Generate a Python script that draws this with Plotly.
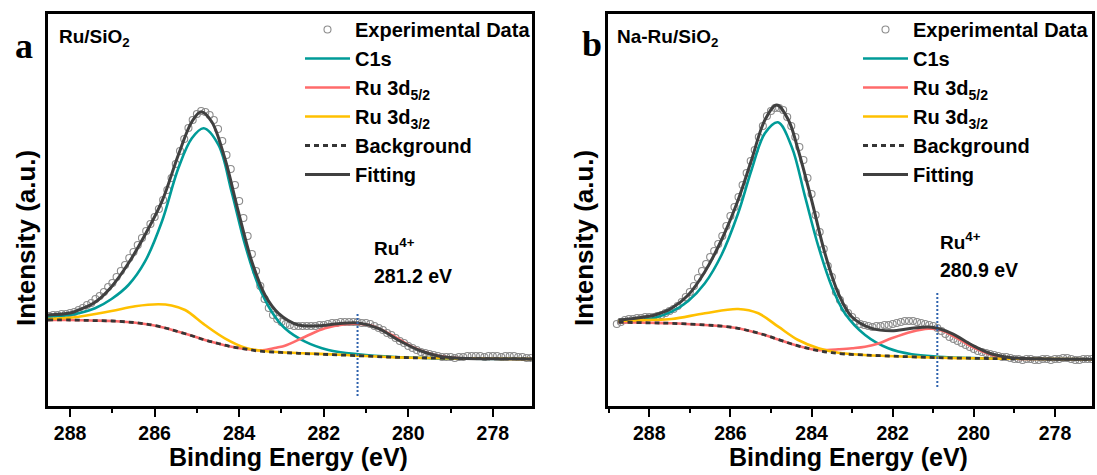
import plotly.graph_objects as go

FONT = "Arial, Liberation Sans, sans-serif"
SERIF = "Times New Roman, Liberation Serif, serif"

# ---------------- Panel a : Ru/SiO2 ----------------
exp_a = [90, 91, 91, 92, 92, 93, 94, 96, 98, 101,
         103, 107, 110, 114, 119, 123, 129, 135, 141, 148,
         154, 161, 168, 175, 182, 189, 197, 206, 216, 228,
         242, 255, 267, 278, 286, 292, 295, 294, 291, 286,
         277, 265, 251, 237, 221, 205, 188, 170, 152, 135,
         120, 107, 98, 91, 87, 84, 82, 81, 80, 80,
         80, 80, 80, 80, 81, 81, 82, 83, 83, 84,
         84, 84, 84, 84, 83, 83, 82, 80, 78, 76,
         73, 71, 68, 65, 63, 60, 58, 56, 54, 53,
         52, 51, 50, 49, 49, 49, 48, 49, 49, 50,
         50, 50, 50, 49, 50, 50, 50, 49, 50, 50,
         50, 49, 49, 48, 48]
exp_a_energy = [round(288.5 - 0.1 * i, 1) for i in range(len(exp_a))]

bg_a_x = [288.53, 288.0, 287.5, 287.0, 286.5, 286.07, 285.7, 285.44, 285.1, 284.81, 284.5,
          284.18, 283.85, 283.55, 283.1, 282.6, 281.9, 281.18, 280.5, 279.92, 279.13, 278.0, 277.0]
bg_a_y = [86, 86, 85.5, 85, 83.5, 81, 77.5, 74.3, 70, 66, 62.5,
          59.3, 57, 55, 53.8, 52.7, 51.5, 50.3, 49, 48.3, 47.7, 47.2, 47]

c1s_a_x = [288.53, 288.0, 287.8, 287.41, 287.02, 286.62, 286.23, 285.83, 285.44, 285.12, 284.84,
           284.49, 284.18, 283.86, 283.55, 283.23, 282.92, 282.44, 281.89, 281.18, 280.31, 279.5, 278.5, 277.0]
c1s_a_y = [89.3, 91, 92.7, 97.7, 107, 121, 144.3, 184.3, 237.7, 267.7, 277.7,
           261, 214.3, 161, 121, 94.3, 77.7, 64.3, 56, 51.7, 49, 47.9, 47.3, 47]

ru52_a_x = [288.53, 288.0, 287.5, 287.0, 286.5, 286.07, 285.7, 285.44, 285.1, 284.81, 284.5, 284.18,
            283.85, 283.55, 283.39, 283.1, 282.92, 282.44, 281.97, 281.5, 281.18, 280.86, 280.39,
            279.92, 279.45, 278.97, 278.0, 277.0]
ru52_a_y = [86, 86, 85.5, 85, 83.5, 81, 77.5, 74.3, 70, 66, 62.5, 59.3,
            57, 55.7, 56, 58.5, 60.3, 69.3, 77.7, 81.7, 82.3, 80.3, 71,
            59.3, 51.7, 48.3, 47.2, 47]

ru32_a_x = [288.53, 287.8, 287.02, 286.46, 285.91, 285.6, 285.28, 284.81, 284.34, 283.86, 283.47,
            283.0, 282.5, 281.8, 281.18, 280.5, 279.92, 279.13, 278.0, 277.0]
ru32_a_y = [87, 89.3, 95, 99.7, 101.7, 100.5, 96, 81, 67.7, 58.3, 55.3,
            53.8, 52.8, 51.6, 50.3, 49, 48.3, 47.7, 47.2, 47]

fit_a_x = [288.53, 288.0, 287.8, 287.41, 287.02, 286.62, 286.23, 285.83, 285.44, 285.12, 284.9,
           284.65, 284.34, 284.02, 283.7, 283.39, 283.07, 282.6, 282.13, 281.66, 281.18, 280.71,
           280.24, 279.76, 279.29, 278.74, 278.0, 277.0]
fit_a_y = [91, 93, 96, 103.7, 119.3, 142.7, 171, 204.3, 251, 284.3, 294.3,
           284.3, 247.7, 194.3, 144.3, 111, 92.7, 81, 80.3, 82.3, 83, 77.7,
           66, 56, 50, 47.7, 47.2, 47]

# ---------------- Panel b : Na-Ru/SiO2 ----------------
exp_b = [82, 84, 86, 87, 87, 88, 88, 89, 89, 89,
         90, 91, 93, 95, 97, 100, 104, 109, 114, 120,
         128, 135, 142, 149, 155, 162, 170, 180, 190, 199,
         209, 221, 233, 245, 256, 269, 280, 290, 295, 298,
         298, 296, 289, 280, 269, 259, 246, 228, 212, 191,
         174, 157, 140, 129, 114, 106, 98, 93, 89, 85,
         82, 81, 80, 79, 80, 80, 81, 81, 82, 83,
         84, 85, 85, 85, 84, 83, 82, 81, 80, 78,
         75, 72, 69, 67, 65, 63, 61, 59, 57, 55,
         54, 53, 52, 51, 50, 49, 49, 48, 47, 47,
         46, 47, 47, 46, 46, 47, 47, 46, 47, 47,
         48, 48, 47, 46, 46, 47, 47, 47]
exp_b_energy = [round(288.8 - 0.1 * i, 1) for i in range(len(exp_b))]

bg_b_x = [288.76, 288.0, 287.45, 286.63, 286.2, 285.81, 285.5, 285.15, 284.82, 284.49, 284.16,
          283.83, 283.5, 283.18, 282.7, 282.11, 281.5, 280.88, 280.0, 279.23, 278.2, 277.0]
bg_b_y = [83.7, 83.2, 82.7, 81, 79.8, 77.7, 74.8, 71, 66.5, 62, 58.3,
          55.3, 53.3, 52, 51, 50, 49.1, 48.3, 47.7, 47.3, 47, 46.7]

c1s_b_x = [288.76, 288.3, 287.86, 287.45, 287.04, 286.63, 286.22, 285.81, 285.48, 285.15, 284.83,
           284.49, 284.16, 283.83, 283.5, 283.18, 282.68, 282.11, 281.53, 280.88, 280.0, 279.0, 277.0]
c1s_b_y = [84.3, 85.5, 88.3, 94.3, 105, 122.7, 151, 192.7, 236, 272.7, 283.7,
           259.3, 209.3, 159.3, 119.3, 92.7, 71, 57.7, 51.7, 49.3, 47.9, 47.2, 46.7]

ru52_b_x = [288.76, 288.0, 287.45, 286.63, 286.2, 285.81, 285.5, 285.15, 284.82, 284.49, 284.16,
            283.83, 283.6, 283.34, 283.0, 282.68, 282.35, 282.03, 281.53, 281.12, 280.88, 280.55,
            280.05, 279.56, 279.07, 278.2, 277.0]
ru52_b_y = [83.7, 83.2, 82.7, 81, 79.8, 77.7, 74.8, 71, 66.5, 62, 58.3,
            55.8, 56, 56.7, 57.8, 59.3, 62.5, 67.7, 74.3, 77.3, 76.7, 71,
            59.3, 51, 47.7, 47, 46.7]

ru32_b_x = [288.76, 288.0, 287.45, 286.63, 285.81, 285.31, 284.82, 284.33, 283.83, 283.34,
            282.7, 282.11, 281.5, 280.88, 280.0, 279.23, 278.2, 277.0]
ru32_b_y = [85, 86, 87, 92.7, 97, 92.7, 79.3, 66, 57.7, 53.3,
            51, 50, 49.1, 48.3, 47.7, 47.3, 47, 46.7]

fit_b_x = [288.76, 288.3, 287.86, 287.45, 287.04, 286.63, 286.22, 285.81, 285.48, 285.15, 284.86,
           284.57, 284.33, 284.0, 283.67, 283.34, 283.01, 282.52, 282.03, 281.53, 281.04, 280.55,
           280.05, 279.56, 279.07, 278.2, 277.0]
fit_b_y = [86, 88, 91, 97.7, 111, 134.3, 166, 206, 246, 286, 301,
           286, 256, 206, 152.7, 112.7, 89.3, 77.7, 75.3, 77.7, 78.7, 72.7,
           61, 52, 48.3, 47, 46.7]

# Ru4+ marker lines
ru4_a_x = [281.2, 281.2]
ru4_a_y = [10, 93]
ru4_b_x = [280.9, 280.9]
ru4_b_y = [19, 115]

# ---------------- styles ----------------
COL_EXP = "#8c8c8c"
COL_C1S = "#009b98"
COL_RU52 = "#ff6b6b"
COL_RU32 = "#ffc000"
COL_BG = "#353535"
COL_FIT = "#404040"
COL_MARK = "#2e62ad"

fig = go.Figure()


def add_panel(xa, ya, leg, ex, ey, c1x, c1y, r5x, r5y, r3x, r3y, bx, by, fx, fy, vx, vy):
    fig.add_trace(go.Scatter(x=ex, y=ey, mode="markers", name="Experimental Data",
                             marker=dict(symbol="circle-open", size=7, color=COL_EXP, line=dict(width=1.1)),
                             xaxis=xa, yaxis=ya, legend=leg))
    fig.add_trace(go.Scatter(x=c1x, y=c1y, mode="lines", name="C1s",
                             line=dict(color=COL_C1S, width=2.6, shape="spline"),
                             xaxis=xa, yaxis=ya, legend=leg))
    fig.add_trace(go.Scatter(x=r5x, y=r5y, mode="lines", name="Ru 3d<sub>5/2</sub>",
                             line=dict(color=COL_RU52, width=2.6, shape="spline"),
                             xaxis=xa, yaxis=ya, legend=leg))
    fig.add_trace(go.Scatter(x=r3x, y=r3y, mode="lines", name="Ru 3d<sub>3/2</sub>",
                             line=dict(color=COL_RU32, width=2.6, shape="spline"),
                             xaxis=xa, yaxis=ya, legend=leg))
    fig.add_trace(go.Scatter(x=bx, y=by, mode="lines", name="Background",
                             line=dict(color=COL_BG, width=2.8, shape="spline", dash="5px,4px"),
                             xaxis=xa, yaxis=ya, legend=leg))
    fig.add_trace(go.Scatter(x=fx, y=fy, mode="lines", name="Fitting",
                             line=dict(color=COL_FIT, width=3, shape="spline"),
                             xaxis=xa, yaxis=ya, legend=leg))
    fig.add_trace(go.Scatter(x=vx, y=vy, mode="lines", showlegend=False,
                             line=dict(color=COL_MARK, width=2, dash="2px,2px"),
                             xaxis=xa, yaxis=ya))


add_panel("x", "y", "legend", exp_a_energy, exp_a, c1s_a_x, c1s_a_y, ru52_a_x, ru52_a_y,
          ru32_a_x, ru32_a_y, bg_a_x, bg_a_y, fit_a_x, fit_a_y, ru4_a_x, ru4_a_y)
add_panel("x2", "y2", "legend2", exp_b_energy, exp_b, c1s_b_x, c1s_b_y, ru52_b_x, ru52_b_y,
          ru32_b_x, ru32_b_y, bg_b_x, bg_b_y, fit_b_x, fit_b_y, ru4_b_x, ru4_b_y)

W, H = 1097, 475


def xaxis(rng, dom, anchor):
    return dict(range=rng, domain=dom, anchor=anchor, showline=True, linecolor="black", linewidth=2.5,
                mirror=True, ticks="outside", ticklen=8, tickwidth=2, tickcolor="black",
                dtick=2, tick0=278, showgrid=False, zeroline=False,
                tickfont=dict(family=FONT, size=19.5, color="black", weight=700),
                minor=dict(dtick=1, tick0=277, ticks="outside", ticklen=4, tickwidth=2,
                           tickcolor="black", showgrid=False))


def yaxis(dom, anchor):
    return dict(range=[0, 392], domain=dom, anchor=anchor, showline=True, linecolor="black",
                linewidth=2.5, mirror=True, ticks="", showticklabels=False, showgrid=False,
                zeroline=False)


ydom = [(H - 406) / H, (H - 14) / H]

legend_common = dict(xanchor="left", yanchor="top", bgcolor="rgba(0,0,0,0)", borderwidth=0,
                     itemwidth=45, font=dict(family=FONT, size=20, color="black", weight=700))

annotations = []


def txt(x, y, text, size, family=FONT, xanchor="left", angle=0):
    annotations.append(dict(x=x / W, y=1 - y / H, xref="paper", yref="paper", text=text,
                            showarrow=False, xanchor=xanchor, yanchor="middle", textangle=angle,
                            font=dict(family=family, size=size, color="black", weight=700)))


txt(24, 46, "a", 36, SERIF, "center")
txt(592, 44, "b", 36, SERIF, "center")
txt(57, 38, "Ru/SiO<sub>2</sub>", 19)
txt(615, 38, "Na-Ru/SiO<sub>2</sub>", 19)
txt(372, 247, "Ru<sup>4+</sup>", 19)
txt(372, 276, "281.2 eV", 19.5)
txt(938, 241, "Ru<sup>4+</sup>", 19)
txt(938, 270, "280.9 eV", 19.5)
txt(288, 457, "Binding Energy (eV)", 25, FONT, "center")
txt(848, 457, "Binding Energy (eV)", 25, FONT, "center")
txt(26, 238, "Intensity (a.u.)", 26, FONT, "center", -90)
txt(584, 238, "Intensity (a.u.)", 26, FONT, "center", -90)

fig.update_layout(
    width=W, height=H, margin=dict(l=0, r=0, t=0, b=0),
    paper_bgcolor="white", plot_bgcolor="white",
    xaxis=xaxis([288.53, 277.08], [47.7 / W, 531.7 / W], "y"),
    yaxis=yaxis(ydom, "x"),
    xaxis2=xaxis([289.01, 277.08], [608.3 / W, 1092.3 / W], "y2"),
    yaxis2=yaxis(ydom, "x2"),
    legend=dict(x=300 / W, y=1 - 10 / H, **legend_common),
    legend2=dict(x=858 / W, y=1 - 10 / H, **legend_common),
    annotations=annotations,
    showlegend=True,
)

fig.write_html("out.html")
